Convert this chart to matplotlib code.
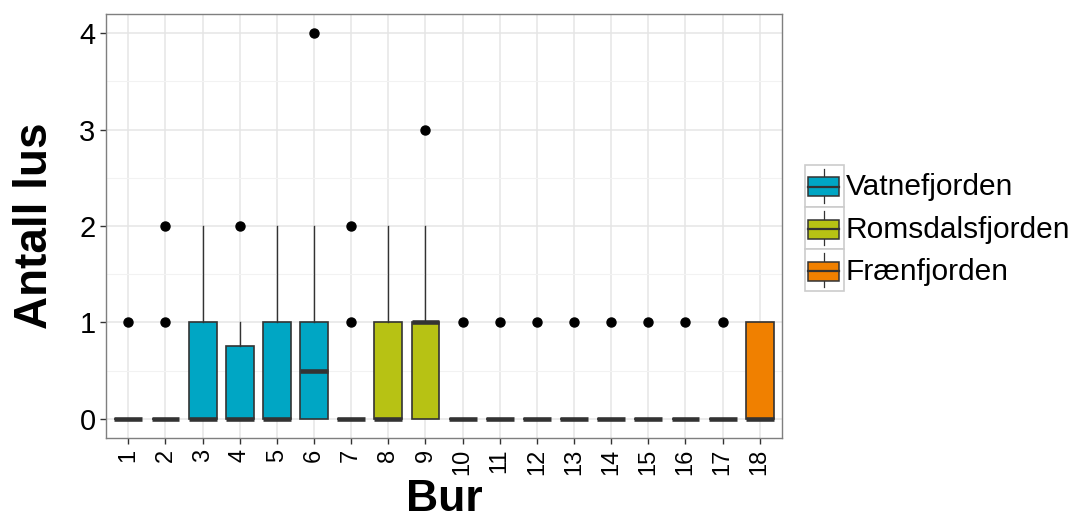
import numpy as np
import matplotlib
matplotlib.use('Agg')
import matplotlib.pyplot as plt
from matplotlib.patches import Patch, Rectangle
from matplotlib.lines import Line2D
from matplotlib.legend_handler import HandlerBase

plt.rcParams['font.family'] = ['Liberation Sans', 'DejaVu Sans']

# Box statistics per cage (Bur)
bur = [str(i) for i in range(1, 19)]
q1 = [0, 0, 0, 0, 0, 0, 0, 0, 0, 0, 0, 0, 0, 0, 0, 0, 0, 0]
med = [0, 0, 0, 0, 0, 0.5, 0, 0, 1, 0, 0, 0, 0, 0, 0, 0, 0, 0]
q3 = [0, 0, 1, 0.75, 1, 1, 0, 1, 1, 0, 0, 0, 0, 0, 0, 0, 0, 1]
whislo = [0] * 18
whishi = [0, 0, 2, 1, 2, 2, 0, 2, 2, 0, 0, 0, 0, 0, 0, 0, 0, 1]
fliers = [[1], [1, 2], [], [2], [], [4], [1, 2], [], [3],
          [1], [1], [1], [1], [1], [1], [1], [1], []]
fjord = ['Vatnefjorden'] * 7 + ['Romsdalsfjorden'] * 6 + ['Frænfjorden'] * 5

fjords = ['Vatnefjorden', 'Romsdalsfjorden', 'Frænfjorden']
colors = {'Vatnefjorden': '#00A6C4', 'Romsdalsfjorden': '#B7C214', 'Frænfjorden': '#F08000'}
edge = '#333333'


class BoxKey(HandlerBase):
    def create_artists(self, legend, orig_handle, xdescent, ydescent,
                       width, height, fontsize, trans):
        x0, y0 = -xdescent, -ydescent
        bg = Rectangle((x0, y0), width, height, facecolor='white',
                       edgecolor='#CCCCCC', lw=1.2, transform=trans)
        cx = x0 + width / 2
        wl = Line2D([cx, cx], [y0 + height * 0.1, y0 + height * 0.9],
                    color=edge, lw=0.9, transform=trans)
        box = Rectangle((x0 + width * 0.08, y0 + height * 0.25), width * 0.8,
                        height * 0.45, facecolor=orig_handle.get_facecolor(),
                        edgecolor=edge, lw=1.1, transform=trans)
        ml = Line2D([x0 + width * 0.08, x0 + width * 0.88], [y0 + height * 0.475] * 2,
                    color=edge, lw=1.6, transform=trans)
        return [bg, wl, box, ml]


fig = plt.figure(figsize=(10.72, 5.28), dpi=100)
ax = fig.add_axes([0.0989, 0.1705, 0.6306, 0.803])

stats = []
for i in range(18):
    stats.append(dict(q1=q1[i], med=med[i], q3=q3[i], whislo=whislo[i],
                      whishi=whishi[i], fliers=fliers[i]))

pos = np.arange(1, 19)
bp = ax.bxp(stats, positions=pos, widths=0.75, patch_artist=True, showcaps=False,
            boxprops=dict(edgecolor=edge, lw=1.2),
            whiskerprops=dict(color=edge, lw=1.0),
            medianprops=dict(color=edge, lw=3.3, solid_capstyle='butt'),
            flierprops=dict(marker='o', markerfacecolor='black', markeredgecolor='black',
                            markersize=6.5),
            zorder=3)
for patch, f in zip(bp['boxes'], fjord):
    patch.set_facecolor(colors[f])

ax.set_xlim(0.4, 18.6)
ax.set_ylim(-0.2, 4.2)
ax.set_xticks(pos)
ax.set_xticklabels(bur, rotation=90, fontsize=17)
ax.set_yticks([0, 1, 2, 3, 4])
ax.set_yticks([0.5, 1.5, 2.5, 3.5], minor=True)
ax.tick_params(axis='y', labelsize=21)
ax.tick_params(which='major', length=4, width=1, color='#333333', colors='black')
ax.tick_params(which='minor', length=0)
ax.tick_params(axis='y', colors='#333333', labelcolor='black')

ax.grid(True, which='major', color='#E5E5E5', lw=1.1, zorder=0)
ax.grid(True, which='minor', axis='y', color='#F2F2F2', lw=0.8, zorder=0)
ax.set_axisbelow(True)
for s in ax.spines.values():
    s.set_color('#7F7F7F')
    s.set_linewidth(1.0)

ax.set_xlabel('Bur', fontsize=32, fontweight='bold', labelpad=3)
ax.set_ylabel('Antall lus', fontsize=33, fontweight='bold', labelpad=16)

handles = [Patch(facecolor=colors[f], label=f) for f in fjords]
fig.legend(handles=handles, labels=fjords, handler_map={Patch: BoxKey()},
           loc='upper left', bbox_to_anchor=(0.751, 0.688), bbox_transform=fig.transFigure,
           frameon=False, fontsize=21.5, handlelength=1.3, handleheight=1.8,
           labelspacing=0.0, handletextpad=0.05, borderpad=0, borderaxespad=0)

fig.savefig('out.png', dpi=100)
